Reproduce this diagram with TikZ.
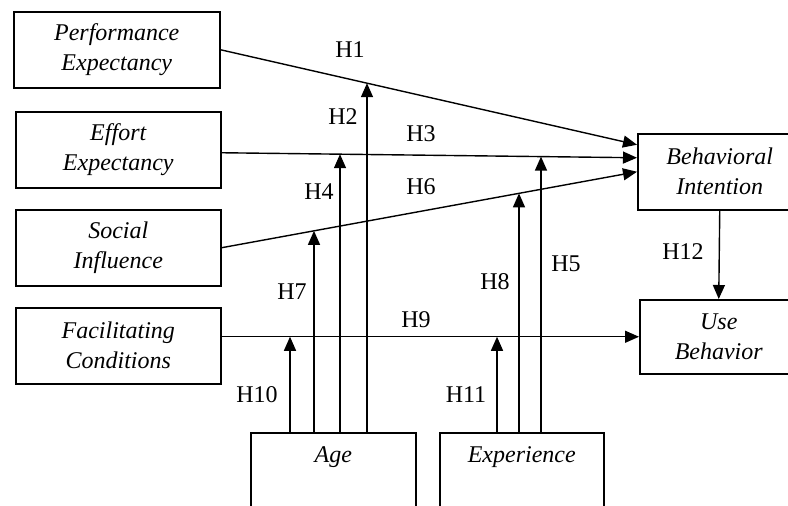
\documentclass[tikz,border=0pt]{standalone}
\usepackage{fontspec}
\setmainfont{Liberation Serif}
\usetikzlibrary{arrows.meta,positioning,calc,intersections}

\begin{document}
\begin{tikzpicture}[x=1pt,y=-1pt,
  font=\rmfamily\fontsize{24}{30}\selectfont,
  construct/.style={draw,line width=1.5pt,minimum width=205pt,minimum height=76pt,
    inner sep=0pt,align=center,anchor=north west,font=\rmfamily\fontsize{24}{30}\selectfont\itshape},
  moderator/.style={draw,line width=1.5pt,minimum width=165pt,minimum height=110pt,anchor=north west},
  modtext/.style={anchor=base,inner sep=0pt,font=\rmfamily\fontsize{24}{30}\selectfont\itshape},
  hyp/.style={line width=1.4pt,-{Triangle[length=14pt,width=12pt]}},
  hlabel/.style={inner sep=0pt}]
\useasboundingbox (0,0) rectangle (788,506);
\clip (0,0) rectangle (788,506);
% constructs
\node[construct,minimum width=206pt] (pe) at (13,11) {Performance\\Expectancy};
\node[construct] (ee) at (15,111) {Effort\\Expectancy};
\node[construct] (si) at (15,209) {Social\\Influence};
\node[construct] (fc) at (15,307) {Facilitating\\Conditions};
\node[construct,minimum width=164pt] (bi) at (637,133) {Behavioral\\Intention};
\node[construct,minimum width=158pt,minimum height=74pt] (ub) at (639,299) {Use\\Behavior};
% moderators (cut at the bottom)
\node[moderator] (age) at (250,432) {};
\node[modtext] (agetxt) at ($(age.north)+(0,30)$) {Age};
\node[moderator,minimum width=164pt] (exp) at (439,432) {};
\node[modtext] (exptxt) at ($(exp.north)+(0,30)$) {Experience};
% arrow ends on the intention box
\coordinate (bi1) at ($(bi.west)+(0,-27)$);
\coordinate (bi2) at ($(bi.west)+(0,-14)$);
\coordinate (ee1) at ($(ee.east)+(0,3)$);
% main paths
\draw[hyp,name path=pebi] (pe.east) -- (bi1);
\draw[hyp,name path=eebi] (ee1) -- (bi2);
\draw[hyp,name path=sibi] (si.east) -- (bi.west);
\draw[hyp,name path=fcub] (fc.east |- ub.west) -- (ub.west);
\draw[hyp] (bi.south) -- (ub.north);
% moderating effects
\foreach \dx/\target in {40/fcub,64/sibi,90/eebi,117/pebi}{
  \path[name path=vline] ($(age.north west)+(\dx,0)$) -- ++(0,-425);
  \draw[hyp,name intersections={of=vline and \target}]
    ($(age.north west)+(\dx,0)$) -- (intersection-1);
}
\foreach \dx/\target in {58/fcub,80/sibi,102/eebi}{
  \path[name path=vline] ($(exp.north west)+(\dx,0)$) -- ++(0,-425);
  \draw[hyp,name intersections={of=vline and \target}]
    ($(exp.north west)+(\dx,0)$) -- (intersection-1);
}
% hypothesis labels
\node[hlabel] (h1) at (350,50) {H1};
\node[hlabel] (h2) at (343,117) {H2};
\node[hlabel] (h3) at (421,134) {H3};
\node[hlabel] (h4) at (319,192) {H4};
\node[hlabel] (h5) at (566,264) {H5};
\node[hlabel] (h6) at (421,187) {H6};
\node[hlabel] (h7) at (292,292) {H7};
\node[hlabel] (h8) at (495,282) {H8};
\node[hlabel] (h9) at (416,320) {H9};
\node[hlabel] (h10) at (257,395) {H10};
\node[hlabel] (h11) at (466,395) {H11};
\node[hlabel] (h12) at (683,252) {H12};
\end{tikzpicture}
\end{document}
